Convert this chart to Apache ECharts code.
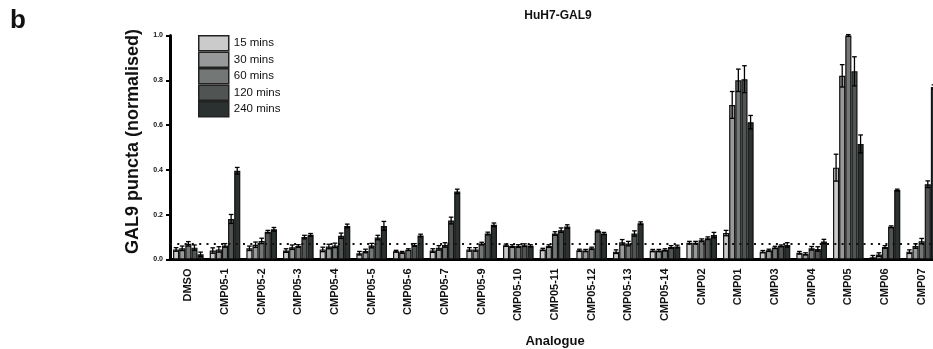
<!DOCTYPE html>
<html>
<head>
<meta charset="utf-8">
<script src="https://cdn.jsdelivr.net/npm/echarts@6/dist/echarts.min.js"></script>
<style>
html,body{margin:0;padding:0;background:#fff;}
#c{width:933px;height:349px;}
</style>
</head>
<body>
<div id="c"></div>
<script>
const categories = ['DMSO','CMP05-1','CMP05-2','CMP05-3','CMP05-4','CMP05-5','CMP05-6','CMP05-7','CMP05-9','CMP05-10','CMP05-11','CMP05-12','CMP05-13','CMP05-14','CMP02','CMP01','CMP03','CMP04','CMP05','CMP06','CMP07'];
const seriesNames = ['15 mins','30 mins','60 mins','120 mins','240 mins'];
const v15  = [0.045,0.040,0.050,0.040,0.045,0.028,0.037,0.040,0.045,0.064,0.045,0.041,0.035,0.040,0.075,0.118,0.035,0.030,0.410,0.010,0.035];
const v30  = [0.050,0.045,0.066,0.055,0.058,0.038,0.032,0.052,0.045,0.060,0.060,0.040,0.077,0.040,0.075,0.690,0.041,0.025,0.820,0.022,0.060];
const v60  = [0.070,0.063,0.083,0.060,0.063,0.062,0.044,0.065,0.071,0.060,0.116,0.050,0.071,0.043,0.086,0.800,0.054,0.050,1.000,0.056,0.082];
const v120 = [0.053,0.181,0.124,0.100,0.106,0.098,0.065,0.174,0.116,0.064,0.131,0.127,0.116,0.056,0.095,0.805,0.061,0.047,0.840,0.146,0.336];
const v240 = [0.023,0.396,0.135,0.110,0.150,0.150,0.107,0.304,0.155,0.061,0.147,0.116,0.162,0.058,0.109,0.613,0.065,0.080,0.516,0.310,0.770];
const e15  = [0.008,0.012,0.010,0.008,0.010,0.008,0.004,0.008,0.008,0.005,0.005,0.005,0.008,0.005,0.006,0.012,0.005,0.006,0.060,0.008,0.008];
const e30  = [0.010,0.012,0.012,0.010,0.010,0.008,0.004,0.010,0.008,0.006,0.006,0.005,0.012,0.005,0.006,0.060,0.005,0.005,0.050,0.008,0.010];
const e60  = [0.010,0.008,0.012,0.006,0.010,0.010,0.004,0.010,0.006,0.006,0.008,0.005,0.010,0.005,0.006,0.050,0.005,0.008,0.004,0.006,0.012];
const e120 = [0.012,0.020,0.006,0.008,0.012,0.010,0.006,0.015,0.006,0.006,0.010,0.004,0.012,0.006,0.006,0.060,0.004,0.010,0.065,0.004,0.015];
const e240 = [0.010,0.015,0.008,0.006,0.008,0.020,0.006,0.010,0.008,0.005,0.008,0.005,0.006,0.006,0.012,0.030,0.010,0.010,0.040,0.004,0.010];
const yTicks = [0, 0.2, 0.4, 0.6, 0.8, 1.0];
const baseline = 0.075;

const values = [v15, v30, v60, v120, v240];
const errors = [e15, e30, e60, e120, e240];
const colors = ['#cbcbcb','#97999b','#737877','#505554','#2b3130'];
const GAP = 0.165;
const FONT = 'Liberation Sans, Arial, Helvetica, sans-serif';

const chart = echarts.init(document.getElementById('c'), null, {renderer:'canvas'});

const series = [];
values.forEach((vals, i) => {
  series.push({
    name: seriesNames[i],
    type: 'bar',
    data: vals,
    barGap: '0%',
    barCategoryGap: (GAP*100)+'%',
    itemStyle: {color: colors[i], borderColor: '#111', borderWidth: 1.2},
    emphasis: {disabled: true},
    animation: false,
    markLine: i === 0 ? {
      silent: true,
      symbol: ['none','none'],
      label: {show: false},
      lineStyle: {type: [2, 5.3], width: 2.2, color: '#111'},
      data: [{yAxis: baseline}],
      animation: false
    } : undefined
  });
});
values.forEach((vals, i) => {
  series.push({
    type: 'custom',
    z: 5,
    animation: false,
    silent: true,
    data: vals.map((v, j) => [j, v, errors[i][j]]),
    renderItem: function (params, api) {
      const x = api.value(0), v = api.value(1), e = api.value(2);
      const band = api.size([1, 0])[0];
      const bw = band * (1 - GAP) / 5;
      const cx = api.coord([x, v])[0] + (i - 2) * bw;
      const yT = api.coord([x, v + e])[1];
      const yB = api.coord([x, Math.max(0, v - e)])[1];
      const h = bw * 0.38;
      const st = {stroke: '#000', lineWidth: 1.3};
      return {type: 'group', children: [
        {type: 'line', shape: {x1: cx, y1: yT, x2: cx, y2: yB}, style: st},
        {type: 'line', shape: {x1: cx - h, y1: yT, x2: cx + h, y2: yT}, style: st},
        {type: 'line', shape: {x1: cx - h, y1: yB, x2: cx + h, y2: yB}, style: st}
      ]};
    }
  });
});

chart.setOption({
  backgroundColor: '#fff',
  animation: false,
  title: {
    text: 'HuH7-GAL9', left: 553, top: 5, textAlign: 'center',
    textStyle: {fontFamily: FONT, fontWeight: 'bold', fontSize: 12, color: '#111'}
  },
  graphic: [{
    type: 'text', left: 10, top: 8,
    style: {text: 'b', fontFamily: FONT, fontWeight: 'bold', fontSize: 26, fill: '#111'}
  }],
  legend: {
    data: seriesNames,
    orient: 'vertical',
    left: 198, top: 35, padding: 0,
    itemWidth: 30, itemHeight: 15, itemGap: 0,
    icon: 'rect',
    itemStyle: {borderColor: '#222', borderWidth: 1.5},
    textStyle: {fontFamily: FONT, fontSize: 11.5, color: '#111', lineHeight: 15},
    selectedMode: false
  },
  grid: {left: 170, top: 35.5, width: 770, height: 224, containLabel: false, outerBoundsMode: 'none'},
  xAxis: {
    type: 'category',
    data: categories,
    name: 'Analogue',
    nameLocation: 'middle',
    nameGap: 75,
    nameTextStyle: {fontFamily: FONT, fontWeight: 'bold', fontSize: 13, color: '#111'},
    axisLine: {lineStyle: {color: '#000', width: 3}},
    axisTick: {alignWithLabel: true, length: 6, lineStyle: {color: '#000', width: 3}},
    axisLabel: {rotate: 90, interval: 0, margin: 9, fontFamily: FONT, fontWeight: 'bold', fontSize: 11, color: '#111'},
    splitLine: {show: false}
  },
  yAxis: {
    type: 'value',
    min: 0, max: 1, interval: 0.2,
    name: 'GAL9 puncta (normalised)',
    nameLocation: 'middle',
    nameGap: 28,
    nameTextStyle: {fontFamily: FONT, fontWeight: 'bold', fontSize: 18, color: '#111', padding: [0, 0, 0, 12]},
    axisLine: {show: true, lineStyle: {color: '#000', width: 3}},
    axisTick: {show: true, length: 4, lineStyle: {color: '#000', width: 2}},
    axisLabel: {fontFamily: FONT, fontWeight: 'bold', fontSize: 7, color: '#111', margin: 7,
      formatter: v => yTicks.includes(Math.round(v*10)/10) ? v.toFixed(1) : ''},
    splitLine: {show: false}
  },
  series: series
});
</script>
</body>
</html>
